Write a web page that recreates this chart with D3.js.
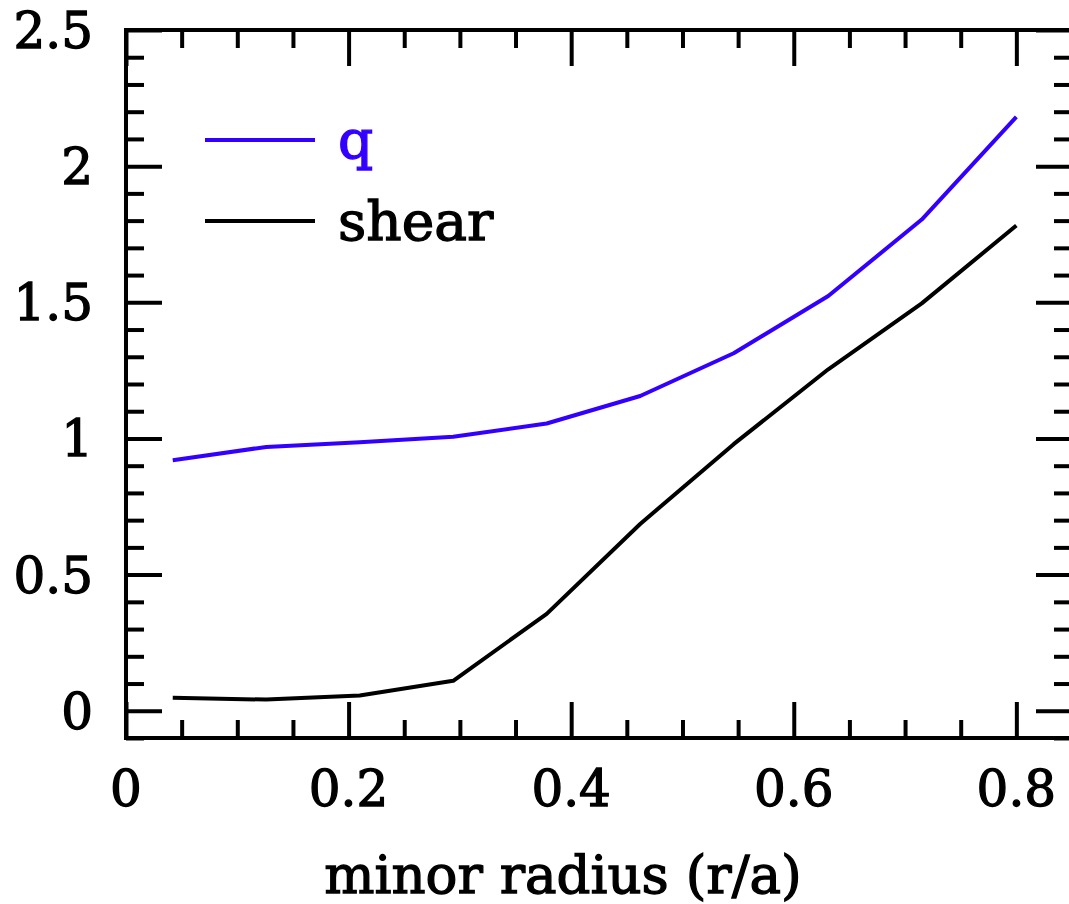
<!DOCTYPE html>
<html><head><meta charset="utf-8">
<script src="https://cdn.jsdelivr.net/npm/d3@7"></script>
<style>
html,body{margin:0;padding:0;background:#fff;overflow:hidden;}
text{font-family:"DejaVu Serif",serif;fill:#000;stroke:#000;stroke-width:1.3px;}
</style></head>
<body>
<svg id="c" width="1069" height="904"></svg>
<script>
const radius = [0.042, 0.126, 0.21, 0.294, 0.378, 0.462, 0.546, 0.631, 0.715, 0.8];
const qValues = [0.920, 0.969, 0.986, 1.006, 1.055, 1.156, 1.313, 1.523, 1.804, 2.181];
const shearValues = [0.048, 0.041, 0.056, 0.110, 0.356, 0.686, 0.979, 1.254, 1.496, 1.782];
const xMajor = [0, 0.2, 0.4, 0.6, 0.8];
const xLabels = ["0", "0.2", "0.4", "0.6", "0.8"];
const yMajor = [0, 0.5, 1, 1.5, 2, 2.5];
const yLabels = ["0", "0.5", "1", "1.5", "2", "2.5"];
const seriesNames = ["q", "shear"];
const xTitle = "minor radius (r/a)";

const L = 126, R = 1072, T = 30, B = 738;
const svg = d3.select("#c");
const x = d3.scaleLinear().domain([0, 0.85]).range([L, R]);
const y = d3.scaleLinear().domain([-0.1, 2.5]).range([B, T]);

const xMinor = d3.range(0, 0.851, 0.05).filter(v => !xMajor.some(m => Math.abs(m - v) < 1e-6));
const yMinor = d3.range(-0.1, 2.501, 0.1).filter(v => !yMajor.some(m => Math.abs(m - v) < 1e-6));

const tickStyle = g => { g.select(".domain").remove(); g.selectAll("line").attr("stroke", "#000").attr("stroke-width", 4); g.selectAll("text").remove(); };

svg.append("g").attr("transform", `translate(0,${B})`).call(d3.axisBottom(x).tickValues(xMajor).tickSize(-36)).call(tickStyle);
svg.append("g").attr("transform", `translate(0,${B})`).call(d3.axisBottom(x).tickValues(xMinor).tickSize(-18)).call(tickStyle);
svg.append("g").attr("transform", `translate(0,${T})`).call(d3.axisTop(x).tickValues(xMajor).tickSize(-36)).call(tickStyle);
svg.append("g").attr("transform", `translate(0,${T})`).call(d3.axisTop(x).tickValues(xMinor).tickSize(-18)).call(tickStyle);
svg.append("g").attr("transform", `translate(${L},0)`).call(d3.axisLeft(y).tickValues(yMajor).tickSize(-36)).call(tickStyle);
svg.append("g").attr("transform", `translate(${L},0)`).call(d3.axisLeft(y).tickValues(yMinor).tickSize(-18)).call(tickStyle);
svg.append("g").attr("transform", `translate(${R},0)`).call(d3.axisRight(y).tickValues(yMajor).tickSize(-36)).call(tickStyle);
svg.append("g").attr("transform", `translate(${R},0)`).call(d3.axisRight(y).tickValues(yMinor).tickSize(-18)).call(tickStyle);

svg.append("rect").attr("x", L).attr("y", T).attr("width", R - L).attr("height", B - T)
  .attr("fill", "none").attr("stroke", "#000").attr("stroke-width", 4);

svg.append("g").selectAll("text").data(xMajor).join("text")
  .attr("x", d => x(d)).attr("y", 806).attr("text-anchor", "middle")
  .attr("font-size", 50).text((d, i) => xLabels[i]);
svg.append("g").selectAll("text").data(yMajor).join("text")
  .attr("x", 93).attr("y", d => y(d) + 18).attr("text-anchor", "end")
  .attr("font-size", 50).text((d, i) => yLabels[i]);

svg.append("text").attr("x", 563).attr("y", 893).attr("text-anchor", "middle")
  .attr("font-size", 53).text(xTitle);

const line = d3.line().x((d, i) => x(radius[i])).y(d => y(d));
const colors = ["#3300ff", "#000000"];
[qValues, shearValues].forEach((vals, k) => {
  svg.append("path").datum(vals).attr("d", line).attr("fill", "none")
    .attr("stroke", colors[k]).attr("stroke-width", 4).attr("stroke-linejoin", "round");
});

// legend
const legY = [140, 221];
seriesNames.forEach((name, k) => {
  svg.append("line").attr("x1", 205).attr("x2", 315).attr("y1", legY[k]).attr("y2", legY[k])
    .attr("stroke", colors[k]).attr("stroke-width", 4);
  svg.append("text").attr("x", 338).attr("y", legY[k] + 19).attr("font-size", 55)
    .style("fill", colors[k]).style("stroke", colors[k]).text(name);
});
</script>
</body></html>
